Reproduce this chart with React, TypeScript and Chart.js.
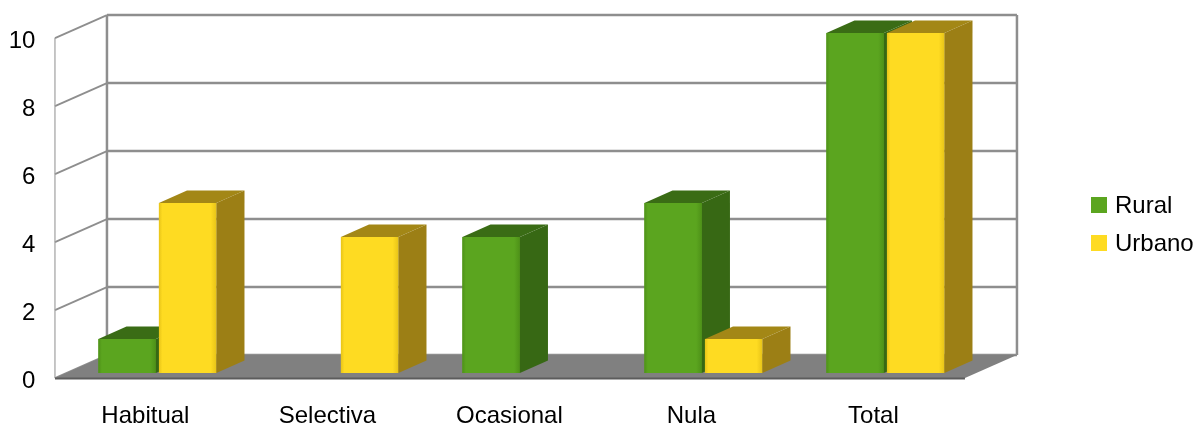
import React, { useEffect, useRef } from "react";
import { Chart, registerables } from "chart.js";

Chart.register(...registerables);

const categories = ["Habitual", "Selectiva", "Ocasional", "Nula", "Total"];
const seriesNames = ["Rural", "Urbano"];
const ruralValues = [1, 0, 4, 5, 10];
const urbanoValues = [5, 4, 0, 1, 10];
const yTicks = [0, 2, 4, 6, 8, 10];

// Face colours per series: front, side, top
const faceColors = [
  { front: "#5ba51f", dark: "#4e9118", side: "#376814", top: "#3a6c15" },
  { front: "#fedb22", dark: "#e8c418", side: "#9c7f15", top: "#a38716" },
];

// Depth vector of the box and where bars sit inside it
const DX = 52;
const DY = -23;
const F0 = 0.22;
const F1 = 0.76;

const FONT = "'Liberation Sans', Arial, sans-serif";

const box3d = {
  id: "box3d",
  beforeDatasetsDraw(chart: any) {
    const { ctx, chartArea } = chart;
    const ys = chart.scales.y;
    const fl = chartArea.left - F0 * DX;
    const fr = chartArea.right - F0 * DX;
    const fy = (v: number) => ys.getPixelForValue(v) - F0 * DY;
    const bl = fl + DX;
    const br = fr + DX;
    const by = (v: number) => fy(v) + DY;
    const vMin = yTicks[0];
    const vMax = yTicks[yTicks.length - 1];

    ctx.save();
    // back wall
    ctx.fillStyle = "#ffffff";
    ctx.fillRect(bl, by(vMax), br - bl, by(vMin) - by(vMax));
    // left wall
    ctx.beginPath();
    ctx.moveTo(fl, fy(vMax));
    ctx.lineTo(bl, by(vMax));
    ctx.lineTo(bl, by(vMin));
    ctx.lineTo(fl, fy(vMin));
    ctx.closePath();
    ctx.fill();

    // grid lines on both walls
    ctx.strokeStyle = "#8e8e8e";
    for (const v of yTicks) {
      ctx.lineWidth = 2.5;
      ctx.beginPath();
      ctx.moveTo(bl, by(v));
      ctx.lineTo(br, by(v));
      ctx.stroke();
      ctx.lineWidth = 1.8;
      ctx.beginPath();
      ctx.moveTo(fl, fy(v));
      ctx.lineTo(bl, by(v));
      ctx.stroke();
    }
    // wall edges
    ctx.lineWidth = 2.5;
    ctx.beginPath();
    ctx.moveTo(bl, by(vMin));
    ctx.lineTo(bl, by(vMax));
    ctx.moveTo(br, by(vMax));
    ctx.lineTo(br, by(vMin));
    ctx.stroke();
    ctx.lineWidth = 1.2;
    ctx.strokeStyle = "#a0a0a0";
    ctx.beginPath();
    ctx.moveTo(fl, fy(vMax));
    ctx.lineTo(fl, fy(vMin));
    ctx.stroke();

    // floor
    ctx.fillStyle = "#808080";
    ctx.beginPath();
    ctx.moveTo(fl, fy(vMin));
    ctx.lineTo(fr, fy(vMin));
    ctx.lineTo(br, by(vMin));
    ctx.lineTo(bl, by(vMin));
    ctx.closePath();
    ctx.fill();
    ctx.strokeStyle = "#5c5c5c";
    ctx.lineWidth = 2;
    ctx.beginPath();
    ctx.moveTo(fl, fy(vMin) + 0.5);
    ctx.lineTo(fr, fy(vMin) + 0.5);
    ctx.stroke();
    ctx.restore();
  },
  afterDatasetsDraw(chart: any) {
    const { ctx } = chart;
    const bw = F1 - F0;
    const ox = bw * DX;
    const oy = bw * DY;
    const metas = chart.data.datasets.map((_: any, i: number) => chart.getDatasetMeta(i));
    ctx.save();
    for (let c = 0; c < categories.length; c++) {
      for (let d = 0; d < metas.length; d++) {
        const el = metas[d].data[c];
        const value = chart.data.datasets[d].data[c];
        if (!el || !value) continue;
        const { x, y, base, width } = el.getProps(["x", "y", "base", "width"], true);
        const left = x - width / 2;
        const right = x + width / 2;
        const col = faceColors[d];

        // front face with slightly darker rims
        const g = ctx.createLinearGradient(left, 0, right, 0);
        g.addColorStop(0, col.dark);
        g.addColorStop(0.06, col.front);
        g.addColorStop(0.9, col.front);
        g.addColorStop(1, col.dark);
        ctx.fillStyle = g;
        ctx.fillRect(left, y, width, base - y);

        // top face
        ctx.fillStyle = col.top;
        ctx.beginPath();
        ctx.moveTo(left, y);
        ctx.lineTo(left + ox, y + oy);
        ctx.lineTo(right + ox, y + oy);
        ctx.lineTo(right, y);
        ctx.closePath();
        ctx.fill();

        // side face
        ctx.fillStyle = col.side;
        ctx.beginPath();
        ctx.moveTo(right, y);
        ctx.lineTo(right + ox, y + oy);
        ctx.lineTo(right + ox, base + oy);
        ctx.lineTo(right, base);
        ctx.closePath();
        ctx.fill();
      }
    }
    ctx.restore();
  },
  afterDraw(chart: any) {
    const { ctx } = chart;
    ctx.save();
    ctx.font = `24px ${FONT}`;
    ctx.textBaseline = "middle";
    ctx.textAlign = "left";
    const legendX = 1091;
    const legendY = [205, 243];
    chart.data.datasets.forEach((ds: any, i: number) => {
      ctx.fillStyle = faceColors[i].front;
      ctx.fillRect(legendX, legendY[i] - 8, 16, 16);
      ctx.fillStyle = "#000000";
      ctx.fillText(ds.label, legendX + 24, legendY[i] + 1);
    });
    ctx.restore();
  },
};

export default function App() {
  const canvasRef = useRef<HTMLCanvasElement | null>(null);

  useEffect(() => {
    if (!canvasRef.current) return;
    const chart = new Chart(canvasRef.current, {
      type: "bar",
      data: {
        labels: categories,
        datasets: [
          {
            label: seriesNames[0],
            data: ruralValues,
            backgroundColor: faceColors[0].front,
            categoryPercentage: 0.665,
            barPercentage: 0.95,
          },
          {
            label: seriesNames[1],
            data: urbanoValues,
            backgroundColor: faceColors[1].front,
            categoryPercentage: 0.665,
            barPercentage: 0.95,
          },
        ],
      },
      options: {
        responsive: false,
        devicePixelRatio: 1,
        animation: false,
        layout: { padding: { left: 0, top: 33, right: 222.6, bottom: 0 } },
        plugins: {
          legend: { display: false },
          tooltip: { enabled: false },
        },
        scales: {
          x: {
            grid: { display: false, drawTicks: false },
            border: { display: false },
            ticks: {
              color: "#000000",
              font: { family: FONT, size: 24 },
              padding: 29,
              labelOffset: -12,
              maxRotation: 0,
            },
            afterFit: (s: any) => {
              s.height = 52;
              s.paddingLeft = 0;
              s.paddingRight = 0;
            },
          },
          y: {
            min: 0,
            max: 10,
            grid: { display: false, drawTicks: false },
            border: { display: false },
            ticks: {
              stepSize: 2,
              color: "#000000",
              font: { family: FONT, size: 24 },
              padding: 31,
              labelOffset: 8,
            },
            afterFit: (s: any) => {
              s.width = 66.4;
              s.paddingTop = 0;
              s.paddingBottom = 0;
            },
          },
        },
      },
      plugins: [box3d],
    });
    return () => chart.destroy();
  }, []);

  return (
    <div style={{ position: "fixed", left: 0, top: 0, width: 1199, height: 425, background: "#ffffff" }}>
      <canvas ref={canvasRef} width={1199} height={425} />
    </div>
  );
}
